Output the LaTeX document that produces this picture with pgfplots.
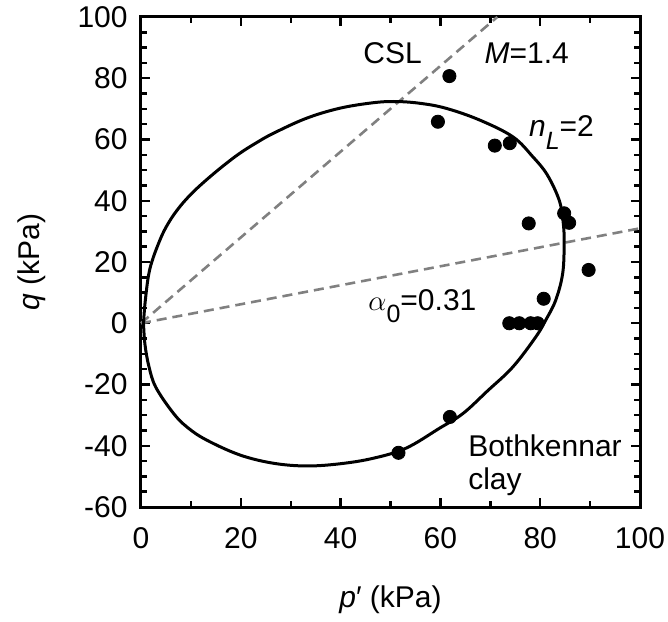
\documentclass[border=0pt]{standalone}
\usepackage{pgfplots}
\pgfplotsset{compat=1.18}
\usepackage{fontspec}
\setmainfont{Liberation Sans}
\newcommand{\sub}[1]{\raisebox{-0.42em}{\fontsize{12.5}{12.5}\selectfont #1}}
\begin{document}
\fontsize{15}{17.5}\selectfont
\begin{tikzpicture}
\begin{axis}[
  name=ax,
  scale only axis,
  width=249.5pt, height=245pt,
  xmin=0, xmax=100, ymin=-60, ymax=100,
  xtick={0,20,...,100},
  ytick={-60,-40,...,100},
  yticklabels={-60,-40,-20,0,20,40,60,80,100},
  xticklabels={0,20,40,60,80,100},
  minor x tick num=1,
  minor y tick num=3,
  tick align=inside,
  xtick pos=both, ytick pos=both,
  major tick length=4.5pt,
  minor tick length=3pt,
  every tick/.style={black, line width=1.2pt},
  axis line style={line width=1.5pt},
  tick label style={font=\fontsize{15}{17.5}\selectfont, inner sep=0pt},
  xticklabel style={anchor=base, yshift=-20.5pt},
  yticklabel style={anchor=east, xshift=-6.5pt},
  clip=false,
]
% CSL and alpha lines
\addplot[black!50, line width=1.3pt, dash pattern=on 5pt off 3pt] coordinates {(0,0) (71.4,100)};
\addplot[black!50, line width=1.3pt, dash pattern=on 5pt off 3pt] coordinates {(0,0) (100,31)};
% yield surface
\addplot[black, line width=1.5pt, smooth, tension=0.6] coordinates {
(0.5,0) (0.9,8) (1.8,17.9) (3.8,27.2) (5.6,33.0) (7.8,38.1) (10.3,42.6) (13.1,46.8) (16.4,51.3) (19.8,55.5) (23.1,58.9) (26.5,62.0)
(33.1,66.9) (39.8,70.2) (46.5,72.0) (51.1,72.4) (56,71.8) (61.1,70.2) (67.8,66.4)
(74.5,60.9) (78.5,54.4) (81.4,48.5) (83.8,40.2) (84.6,33) (84.8,26.1) (84.5,16.2)
(83.1,7.5) (81.1,1.0) (79.1,-4.5) (74.5,-14.3) (69.5,-22) (64.5,-29.5) (59.8,-34.3)
(53.1,-40.8) (46.5,-44.1) (39.8,-45.9) (33.1,-46.6) (26.5,-45.7) (19.8,-43.0)
(13.1,-38.1) (9.3,-34.0) (6.5,-29.4) (3.0,-21) (1.6,-14.2) (0.8,-7) (0.5,0)
};
% data
\addplot[only marks, mark=*, mark size=3.3pt, black] coordinates {
(61.8,80.7) (59.5,65.8) (70.9,58.0) (73.9,58.8) (77.7,32.6) (84.8,35.9) (85.8,32.8)
(89.7,17.4) (80.7,8.0) (73.8,0) (75.8,0) (78.1,0) (79.5,0) (61.9,-30.6) (51.6,-42.3)
};
\node[anchor=base west, inner sep=0pt] at (axis cs:44.5,84.9) {CSL};
\node[anchor=base west, inner sep=0pt] at (axis cs:68.8,84.9) {\textit{M}=1.4};
\node[anchor=base west, inner sep=0pt] at (axis cs:77.7,60.9) {\textit{n\sub{L}}=2};
\node[anchor=base west, inner sep=0pt] at (axis cs:45.5,4.3) {$\alpha$\sub{0}=0.31};
\node[anchor=base west, inner sep=0pt] at (axis cs:65.5,-43.6) {Bothkennar};
\node[anchor=base west, inner sep=0pt] at (axis cs:65.5,-54.4) {clay};
\end{axis}
\node[rotate=90] at ([xshift=-54.5pt]ax.west) {\textit{q} (kPa)};
\node at ([yshift=-46.5pt]ax.south) {\textit{p}′ (kPa)};
\pgfresetboundingbox
\path ([xshift=-70.5pt,yshift=-57pt]ax.south west) rectangle ([xshift=14pt,yshift=8.5pt]ax.north east);
\end{tikzpicture}
\end{document}
